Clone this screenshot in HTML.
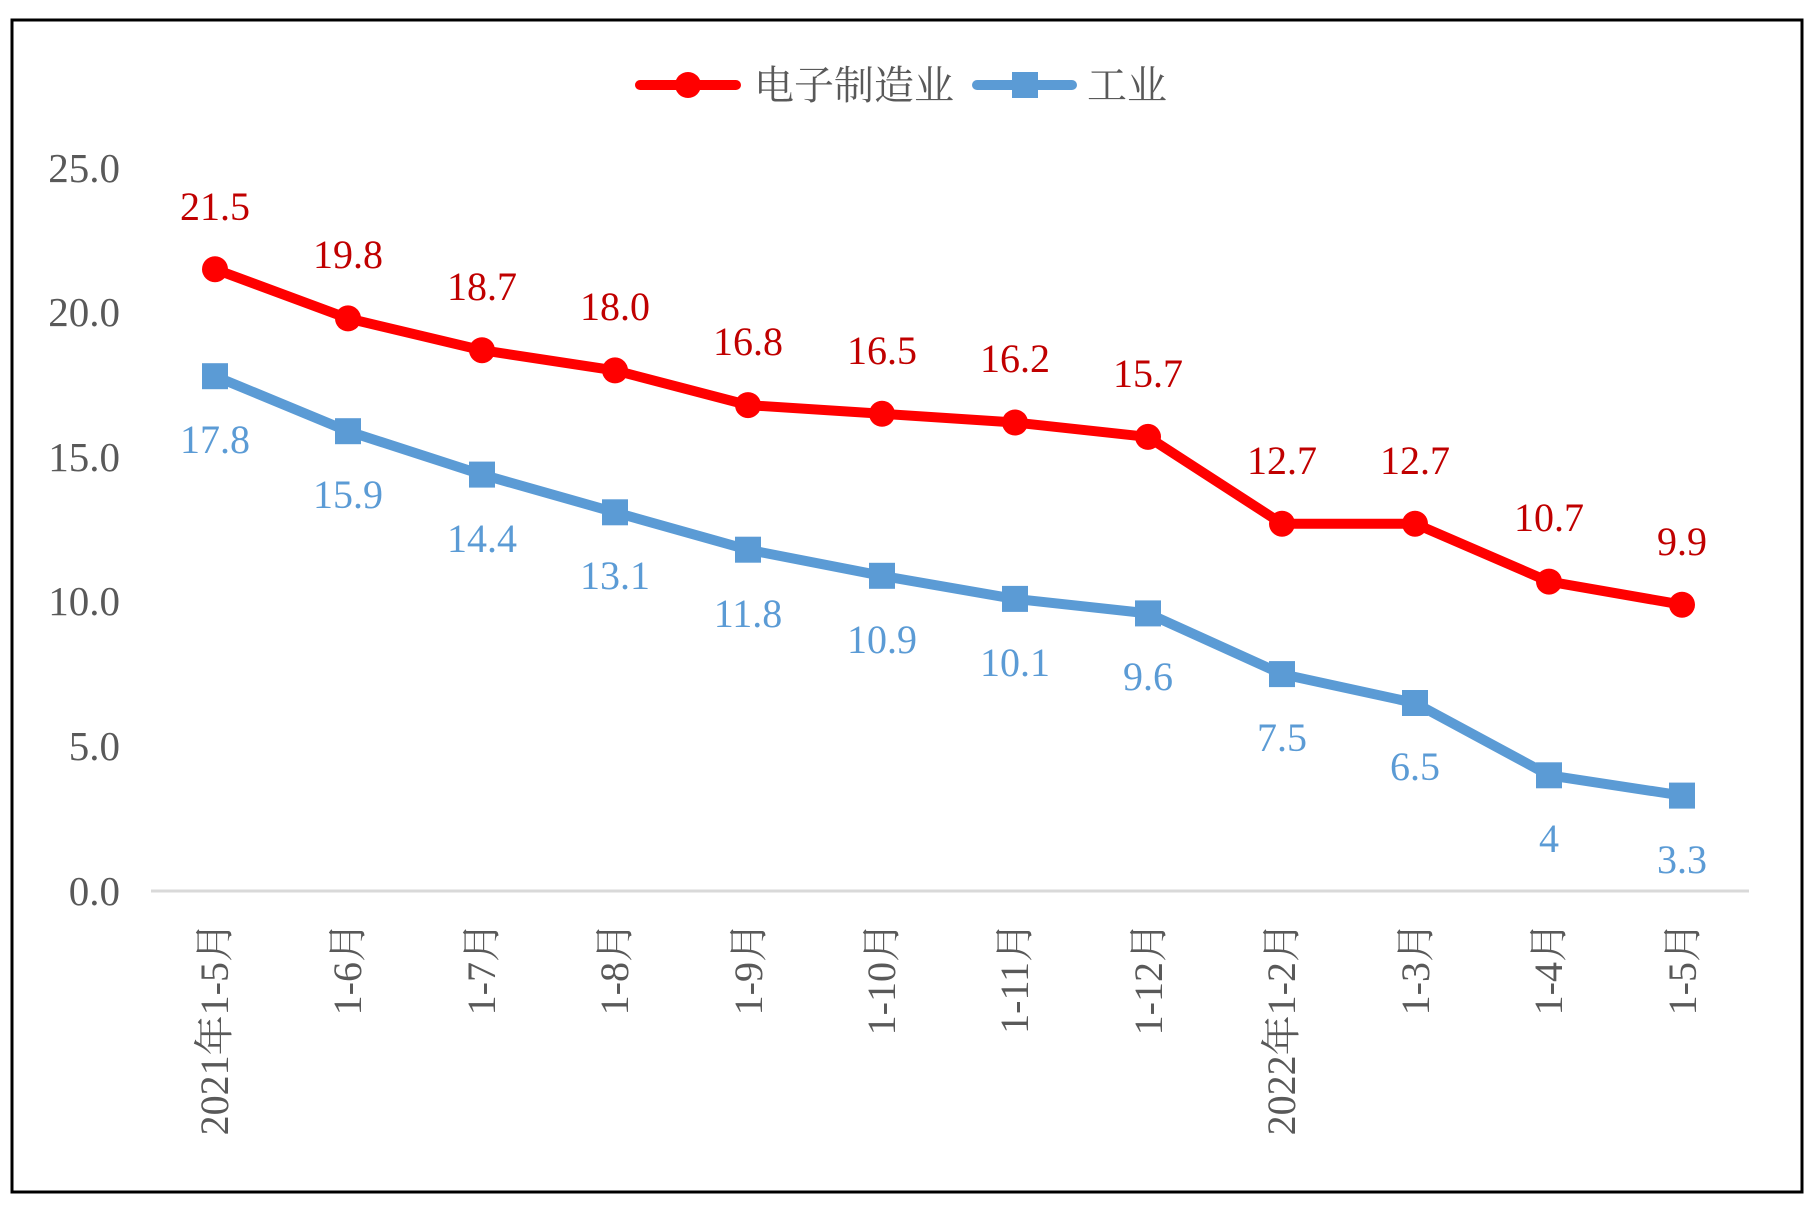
<!DOCTYPE html>
<html><head><meta charset="utf-8"><style>
html,body{margin:0;padding:0;background:#fff;}
svg{display:block;}
text{font-family:"Liberation Serif","Noto Serif CJK SC",serif;}
</style></head><body>
<svg width="1810" height="1207" viewBox="0 0 1810 1207" xmlns="http://www.w3.org/2000/svg">
<rect x="0" y="0" width="1810" height="1207" fill="#fff"/>
<rect x="12" y="20" width="1790" height="1172" fill="none" stroke="#000" stroke-width="3"/>
<line x1="640" y1="85" x2="736" y2="85" stroke="#ff0000" stroke-width="10" stroke-linecap="round"/>
<circle cx="688" cy="85" r="13" fill="#ff0000"/>
<text x="754" y="99" font-size="40" fill="#595959">电子制造业</text>
<line x1="977" y1="85" x2="1072" y2="85" stroke="#5b9bd5" stroke-width="10" stroke-linecap="round"/>
<rect x="1012" y="72" width="26" height="26" fill="#5b9bd5"/>
<text x="1087" y="99" font-size="40" fill="#595959">工业</text>
<g font-size="41" fill="#595959" text-anchor="end">
<text x="120" y="182">25.0</text>
<text x="120" y="326">20.0</text>
<text x="120" y="471">15.0</text>
<text x="120" y="615">10.0</text>
<text x="120" y="760">5.0</text>
<text x="120" y="905">0.0</text>
</g>
<line x1="151" y1="891" x2="1749" y2="891" stroke="#d9d9d9" stroke-width="3"/>
<g font-size="40" fill="#595959" text-anchor="end">
<text transform="translate(228,922) rotate(-90)">2021年1-5月</text>
<text transform="translate(361,922) rotate(-90)">1-6月</text>
<text transform="translate(495,922) rotate(-90)">1-7月</text>
<text transform="translate(628,922) rotate(-90)">1-8月</text>
<text transform="translate(762,922) rotate(-90)">1-9月</text>
<text transform="translate(895,922) rotate(-90)">1-10月</text>
<text transform="translate(1028,922) rotate(-90)">1-11月</text>
<text transform="translate(1162,922) rotate(-90)">1-12月</text>
<text transform="translate(1295,922) rotate(-90)">2022年1-2月</text>
<text transform="translate(1429,922) rotate(-90)">1-3月</text>
<text transform="translate(1562,922) rotate(-90)">1-4月</text>
<text transform="translate(1696,922) rotate(-90)">1-5月</text>
</g>
<polyline fill="none" stroke="#5b9bd5" stroke-width="10" stroke-linejoin="round"
points="215,376.2 348,431.2 482,474.6 615,512.3 748,549.7 882,575.8 1015,598.9 1148,613.4 1282,674.1 1415,703.0 1549,775.3 1682,795.6"/>
<g fill="#5b9bd5">
<rect x="202" y="363.2" width="26" height="26"/>
<rect x="335" y="418.2" width="26" height="26"/>
<rect x="469" y="461.6" width="26" height="26"/>
<rect x="602" y="499.3" width="26" height="26"/>
<rect x="735" y="536.7" width="26" height="26"/>
<rect x="869" y="562.8" width="26" height="26"/>
<rect x="1002" y="585.9" width="26" height="26"/>
<rect x="1135" y="600.4" width="26" height="26"/>
<rect x="1269" y="661.1" width="26" height="26"/>
<rect x="1402" y="690.0" width="26" height="26"/>
<rect x="1536" y="762.3" width="26" height="26"/>
<rect x="1669" y="782.6" width="26" height="26"/>
</g>
<g font-size="40" fill="#5b9bd5" text-anchor="middle">
<text x="215" y="453">17.8</text>
<text x="348" y="508">15.9</text>
<text x="482" y="552">14.4</text>
<text x="615" y="589">13.1</text>
<text x="748" y="627">11.8</text>
<text x="882" y="653">10.9</text>
<text x="1015" y="676">10.1</text>
<text x="1148" y="690">9.6</text>
<text x="1282" y="751">7.5</text>
<text x="1415" y="780">6.5</text>
<text x="1549" y="852">4</text>
<text x="1682" y="873">3.3</text>
</g>
<polyline fill="none" stroke="#ff0000" stroke-width="10" stroke-linejoin="round"
points="215,269.2 348,318.4 482,350.2 615,370.4 748,405.1 882,413.8 1015,422.5 1148,436.9 1282,523.7 1415,523.7 1549,581.6 1682,604.7"/>
<g fill="#ff0000">
<circle cx="215" cy="269.2" r="13"/>
<circle cx="348" cy="318.4" r="13"/>
<circle cx="482" cy="350.2" r="13"/>
<circle cx="615" cy="370.4" r="13"/>
<circle cx="748" cy="405.1" r="13"/>
<circle cx="882" cy="413.8" r="13"/>
<circle cx="1015" cy="422.5" r="13"/>
<circle cx="1148" cy="436.9" r="13"/>
<circle cx="1282" cy="523.7" r="13"/>
<circle cx="1415" cy="523.7" r="13"/>
<circle cx="1549" cy="581.6" r="13"/>
<circle cx="1682" cy="604.7" r="13"/>
</g>
<g font-size="40" fill="#c00000" text-anchor="middle">
<text x="215" y="220">21.5</text>
<text x="348" y="268">19.8</text>
<text x="482" y="300">18.7</text>
<text x="615" y="320">18.0</text>
<text x="748" y="355">16.8</text>
<text x="882" y="364">16.5</text>
<text x="1015" y="372">16.2</text>
<text x="1148" y="387">15.7</text>
<text x="1282" y="474">12.7</text>
<text x="1415" y="474">12.7</text>
<text x="1549" y="531">10.7</text>
<text x="1682" y="555">9.9</text>
</g>
</svg>
</body></html>
